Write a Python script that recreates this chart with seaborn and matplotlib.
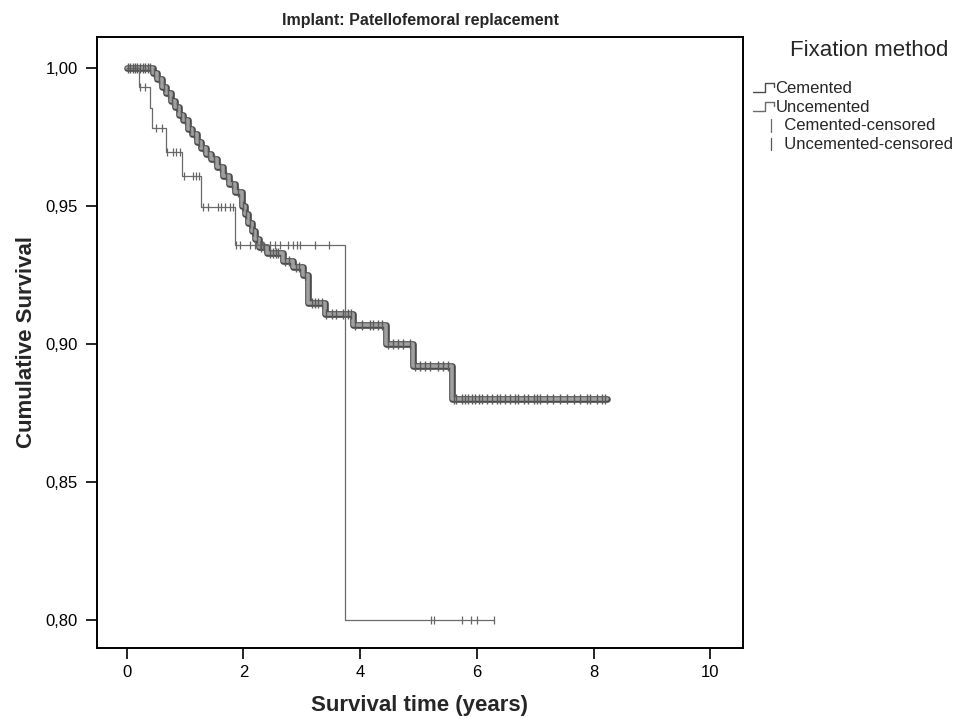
import numpy as np
import pandas as pd
import matplotlib
matplotlib.use("Agg")
import matplotlib.pyplot as plt
from matplotlib.lines import Line2D
from matplotlib.legend_handler import HandlerBase
from matplotlib.ticker import FuncFormatter
import seaborn as sns

# Kaplan-Meier step data (time in years, cumulative survival after each event)
cem_times = [0.00, 0.45, 0.52, 0.60, 0.68, 0.75, 0.82, 0.90, 0.97, 1.05, 1.12, 1.20,
             1.27, 1.35, 1.45, 1.55, 1.65, 1.75, 1.85, 1.97, 2.02, 2.08, 2.14, 2.20,
             2.27, 2.40, 2.68, 2.85, 3.02, 3.11, 3.40, 3.88, 4.45, 4.91, 5.57]
cem_surv = [1.000, 0.998, 0.996, 0.993, 0.991, 0.988, 0.986, 0.983, 0.981, 0.978, 0.976, 0.973,
            0.971, 0.969, 0.967, 0.964, 0.961, 0.958, 0.955, 0.950, 0.947, 0.944, 0.941, 0.938,
            0.935, 0.933, 0.930, 0.928, 0.925, 0.915, 0.911, 0.907, 0.900, 0.892, 0.880]
cem_end = 8.23
cem_censored = [0.02, 0.06, 0.10, 0.14, 0.18, 0.22, 0.27, 0.31, 0.36, 0.40, 0.47, 0.55,
                0.63, 0.71, 0.78, 0.86, 0.93, 1.00, 1.08, 1.16, 1.23, 1.31, 1.40, 1.50,
                1.60, 1.70, 1.80, 1.90, 1.99, 2.05, 2.11, 2.17, 2.23, 2.30, 2.35, 2.45,
                2.50, 2.55, 2.60, 2.72, 2.78, 2.90, 2.95, 3.06, 3.17, 3.22, 3.28, 3.34,
                3.42, 3.51, 3.59, 3.70, 3.79, 3.85, 3.91, 4.03, 4.17, 4.22, 4.31, 4.37,
                4.48, 4.57, 4.65, 4.74, 4.85, 4.94, 5.02, 5.11, 5.19, 5.33, 5.42, 5.51,
                5.60, 5.65, 5.74, 5.80, 5.85, 5.91, 5.97, 6.03, 6.08, 6.17, 6.26, 6.34,
                6.40, 6.48, 6.57, 6.65, 6.71, 6.80, 6.88, 6.97, 7.03, 7.08, 7.20, 7.31,
                7.43, 7.54, 7.66, 7.77, 7.88, 7.94, 8.06, 8.14, 8.20]

unc_times = [0.00, 0.21, 0.39, 0.43, 0.67, 0.955, 1.27, 1.85, 3.74]
unc_surv = [1.000, 0.9932, 0.9854, 0.9782, 0.9697, 0.9607, 0.9498, 0.9359, 0.8002]
unc_end = 6.30
unc_censored = [0.22, 0.31, 0.50, 0.61, 0.69, 0.79, 0.85, 0.91, 0.98, 1.14, 1.19, 1.24,
                1.31, 1.39, 1.57, 1.62, 1.68, 1.77, 1.82, 1.87, 1.94, 2.11, 2.20, 2.28,
                2.34, 2.45, 2.54, 2.62, 2.77, 2.85, 2.91, 2.97, 3.22, 3.46, 5.21, 5.27,
                5.74, 5.90, 6.00, 6.30]

groups = ["Cemented", "Uncemented"]
legend_labels = ["Cemented", "Uncemented", "Cemented-censored", "Uncemented-censored"]
x_ticks = [0, 2, 4, 6, 8, 10]
y_ticks = [0.80, 0.85, 0.90, 0.95, 1.00]


def step_frame(times, surv, end, label):
    t = list(times) + [end]
    s = list(surv) + [surv[-1]]
    return pd.DataFrame({"time": t, "survival": s, "group": label})


def censor_frame(times, surv, cens, label):
    idx = np.searchsorted(np.asarray(times), np.asarray(cens), side="right") - 1
    return pd.DataFrame({"time": cens, "survival": np.asarray(surv)[idx], "group": label})


curves = pd.concat([step_frame(cem_times, cem_surv, cem_end, groups[0]),
                    step_frame(unc_times, unc_surv, unc_end, groups[1])])
censors = pd.concat([censor_frame(cem_times, cem_surv, cem_censored, groups[0]),
                     censor_frame(unc_times, unc_surv, unc_censored, groups[1])])

sns.set_style("white")
plt.rcParams["font.family"] = ["Liberation Sans", "DejaVu Sans"]

fig = plt.figure(figsize=(9.62, 7.24), dpi=100)
ax = fig.add_axes([97 / 962, 1 - 648 / 724, (743 - 97) / 962, (648 - 37) / 724])

cem = curves[curves.group == "Cemented"]
unc = curves[curves.group == "Uncemented"]

# Cemented: wide grey band with a darker rim
sns.lineplot(data=cem, x="time", y="survival", ax=ax, estimator=None, sort=False,
             drawstyle="steps-post", color="#4a4a4a", linewidth=4.8, legend=False)
sns.lineplot(data=cem, x="time", y="survival", ax=ax, estimator=None, sort=False,
             drawstyle="steps-post", color="#a0a0a0", linewidth=2.6, legend=False)
sns.scatterplot(data=censors[censors.group == "Cemented"], x="time", y="survival", ax=ax,
                marker="|", s=60, color="#5a5a5a", linewidth=1.0, legend=False, zorder=3)

# Uncemented: thin grey line
sns.lineplot(data=unc, x="time", y="survival", ax=ax, estimator=None, sort=False,
             drawstyle="steps-post", color="#6a6a6a", linewidth=0.9, legend=False)
sns.scatterplot(data=censors[censors.group == "Uncemented"], x="time", y="survival", ax=ax,
                marker="|", s=40, color="#666666", linewidth=0.9, legend=False, zorder=3)

ax.set_xlim(-0.51, 10.56)
ax.set_ylim(0.7899, 1.0112)
ax.set_xticks(x_ticks)
ax.set_yticks(y_ticks)
ax.yaxis.set_major_formatter(FuncFormatter(lambda v, p: f"{v:.2f}".replace(".", ",")))
ax.tick_params(axis="both", which="major", direction="out", length=8, width=1.2,
               labelsize=12, colors="black", bottom=True, left=True, top=False, right=False)
ax.tick_params(axis="y", pad=6)
ax.tick_params(axis="x", pad=4)
for sp in ax.spines.values():
    sp.set_visible(True)
    sp.set_color("black")
    sp.set_linewidth(1.4)

ax.set_xlabel("Survival time (years)", fontsize=16, fontweight="bold", labelpad=11)
ax.set_ylabel("Cumulative Survival", fontsize=16, fontweight="bold", labelpad=6)
ax.set_title("Implant: Patellofemoral replacement", fontsize=11.5, fontweight="bold", pad=9)


class StepHandler(HandlerBase):
    def __init__(self, color, lw):
        super().__init__()
        self.color = color
        self.lw = lw

    def create_artists(self, legend, orig_handle, xd, yd, width, height, fontsize, trans):
        x0 = -xd
        y0 = -yd + height * 0.05
        y1 = -yd + height * 0.85
        x = [x0, x0 + width * 0.55, x0 + width * 0.55, x0 + width * 0.95, x0 + width * 0.95]
        y = [y0, y0, y1, y1, y1 - height * 0.35]
        return [Line2D(x, y, color=self.color, linewidth=self.lw, transform=trans)]


class TickHandler(HandlerBase):
    def __init__(self, color):
        super().__init__()
        self.color = color

    def create_artists(self, legend, orig_handle, xd, yd, width, height, fontsize, trans):
        xc = -xd + width * 0.85
        return [Line2D([xc, xc], [-yd - height * 0.1, -yd + height * 0.95],
                       color=self.color, linewidth=0.9, transform=trans)]


h_cem = Line2D([], [], color="#4a4a4a")
h_unc = Line2D([], [], color="#6a6a6a")
h_cc = Line2D([], [], color="#6a6a6a")
h_uc = Line2D([], [], color="#555555")

fig.text(869 / 962, 1 - 50 / 724, "Fixation method", fontsize=16, ha="center", va="center")
leg = fig.legend([h_cem, h_unc, h_cc, h_uc],
                 [legend_labels[0], legend_labels[1],
                  "  " + legend_labels[2], "  " + legend_labels[3]],
                 loc="upper left", bbox_to_anchor=(743 / 962, 1 - 71 / 724),
                 frameon=False, fontsize=12,
                 handlelength=1.3, handletextpad=0.05, labelspacing=0.22, borderpad=0.1,
                 handler_map={h_cem: StepHandler("#4a4a4a", 1.0),
                              h_unc: StepHandler("#6a6a6a", 1.0),
                              h_cc: TickHandler("#6a6a6a"),
                              h_uc: TickHandler("#555555")})

fig.savefig("out.png", dpi=100, facecolor="white")
